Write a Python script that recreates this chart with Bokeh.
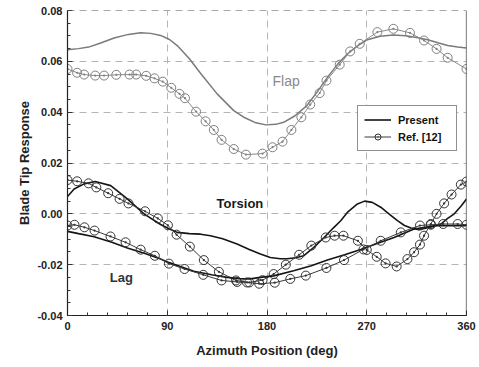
from bokeh.plotting import figure
from bokeh.models import (Range1d, FixedTicker, NumeralTickFormatter, Span, Label,
                          Legend, LegendItem)
from bokeh.embed import file_html
from bokeh.resources import INLINE

# ---------------- data ----------------
flap_present_x = [0, 10, 19, 30, 42, 55, 66, 75, 84, 92, 99, 110, 120, 135, 150, 160, 170, 179,
                  188, 195, 205, 216, 225, 234.5, 244, 252.5, 262, 270.6, 282, 294, 305, 315,
                  325, 335, 343, 352, 360]
flap_present_y = [0.0646, 0.0650, 0.0656, 0.0672, 0.0692, 0.0706, 0.0712, 0.0710, 0.0702, 0.0686,
                  0.0662, 0.0610, 0.0553, 0.0472, 0.0406, 0.0378, 0.0358, 0.0350, 0.0352, 0.0360,
                  0.0385, 0.0426, 0.0478, 0.0537, 0.0590, 0.0629, 0.0662, 0.0685, 0.0699, 0.0704,
                  0.0701, 0.0694, 0.0685, 0.0672, 0.0662, 0.0656, 0.0652]

flap_ref_x = [0, 8.7, 15, 25, 33, 44, 56, 62, 71, 78.5, 86, 93.6, 101, 106, 116, 124.6, 132, 139,
              150, 161, 176, 185, 194, 202, 211, 219, 227.5, 233.6, 245.6, 255, 263.7, 279.6, 294,
              309, 321.7, 333, 343, 360]
flap_ref_y = [0.0570, 0.0555, 0.0548, 0.0544, 0.0544, 0.0547, 0.0548, 0.0548, 0.0543, 0.0533,
              0.0520, 0.0496, 0.0472, 0.0455, 0.0402, 0.0364, 0.0330, 0.0291, 0.0255, 0.0233,
              0.0237, 0.0262, 0.0284, 0.0330, 0.0380, 0.0430, 0.0475, 0.0524, 0.0587, 0.0639,
              0.0669, 0.0715, 0.0728, 0.0712, 0.0682, 0.0649, 0.0614, 0.0570]

torsion_present_x = [0, 6, 15, 25, 39, 54, 69, 84, 92, 99, 110, 120, 129, 140, 153, 164, 174, 183,
                     192, 198, 206, 213, 222, 231.5, 240, 246.5, 253, 261.6, 268, 275, 282.6, 290,
                     297.7, 304, 310, 316, 322, 328, 337, 343, 349, 355, 360]
torsion_present_y = [0.0068, 0.0098, 0.0118, 0.0127, 0.0111, 0.0059, 0.0000, -0.0042, -0.0060,
                     -0.0073, -0.0078, -0.0080, -0.0086, -0.0098, -0.0119, -0.0140, -0.0158,
                     -0.0172, -0.0177, -0.0177, -0.0173, -0.0165, -0.0133, -0.0093, -0.0055,
                     -0.0027, 0.0008, 0.0039, 0.0050, 0.0045, 0.0026, 0.0000, -0.0027, -0.0046,
                     -0.0056, -0.0062, -0.0058, -0.0052, -0.0040, -0.0018, 0.0000, 0.0030, 0.0058]

torsion_ref_x = [0, 8.7, 19, 26, 36.7, 47, 55, 70, 81.5, 90.6, 98.4, 110.4, 123, 136.6, 152, 164,
                 176, 186, 197, 209, 220, 233, 241, 249, 262, 270, 279, 287, 297, 306.7, 312.7,
                 318, 321.7, 327.8, 333, 339.8, 346.5, 354.9, 360]
torsion_ref_y = [0.0133, 0.0128, 0.0120, 0.0104, 0.0081, 0.0059, 0.0041, 0.0010, -0.0018, -0.0045,
                 -0.0082, -0.0129, -0.0182, -0.0228, -0.0262, -0.0270, -0.0261, -0.0237, -0.0200,
                 -0.0161, -0.0125, -0.0093, -0.0086, -0.0086, -0.0106, -0.0142, -0.0169, -0.0195,
                 -0.0207, -0.0178, -0.0151, -0.0121, -0.0086, -0.0040, 0.0000, 0.0041, 0.0076,
                 0.0115, 0.0127]

lag_present_x = [0, 10, 24, 40, 54, 70, 84, 91, 114, 130, 144, 155, 165, 174, 186, 204, 220,
                 234.5, 250, 264.6, 280, 294.6, 312.7, 330.7, 345, 360]
lag_present_y = [-0.0069, -0.0078, -0.0090, -0.0112, -0.0134, -0.0156, -0.0178, -0.0191, -0.0226,
                 -0.0240, -0.0250, -0.0255, -0.0256, -0.0250, -0.0244, -0.0224, -0.0204, -0.0182,
                 -0.0161, -0.0140, -0.0116, -0.0093, -0.0060, -0.0047, -0.0046, -0.0047]

lag_ref_x = [0, 6.3, 15.3, 24.4, 38.8, 52.4, 66, 78.8, 91.5, 105.6, 122.5, 139, 153, 162, 173, 187,
             201, 215, 233.6, 249.5, 267, 282.6, 300.7, 318, 327.8, 339, 352, 360]
lag_ref_y = [-0.0046, -0.0043, -0.0053, -0.0066, -0.0089, -0.0112, -0.0141, -0.0165, -0.0196,
             -0.0217, -0.0240, -0.0262, -0.0268, -0.0270, -0.0275, -0.0271, -0.0256, -0.0243,
             -0.0213, -0.0182, -0.0140, -0.0106, -0.0073, -0.0046, -0.0043, -0.0040, -0.0040,
             -0.0043]

x_ticks = [0, 90, 180, 270, 360]
y_ticks = [-0.04, -0.02, 0.0, 0.02, 0.04, 0.06, 0.08]
x_minor = [i * 18 for i in range(21)]
y_minor = [round(-0.04 + i * 0.005, 3) for i in range(25)]

FONT = "Liberation Sans"

p = figure(width=479, height=367, output_backend="svg", toolbar_location=None,
           x_range=Range1d(0, 360), y_range=Range1d(-0.04, 0.08),
           min_border_left=67, min_border_right=13, min_border_top=10, min_border_bottom=52)
p.outline_line_color = None
p.background_fill_color = "white"
p.border_fill_color = "white"

for ax in (p.xaxis[0], p.yaxis[0]):
    ax.axis_line_color = "#222222"
    ax.axis_line_width = 1.2
    ax.major_tick_out = 0
    ax.major_tick_in = 5
    ax.minor_tick_out = 0
    ax.minor_tick_in = 3
    ax.major_tick_line_color = "#333333"
    ax.minor_tick_line_color = "#333333"
    ax.major_label_text_font = FONT
    ax.major_label_text_font_style = "bold"
    ax.major_label_text_font_size = "11px"
    ax.major_label_text_color = "#222222"
    ax.axis_label_text_font = FONT
    ax.axis_label_text_font_style = "bold"
    ax.axis_label_text_font_size = "13px"
    ax.axis_label_text_color = "#222222"

p.xaxis.ticker = FixedTicker(ticks=x_ticks, minor_ticks=x_minor)
p.yaxis.ticker = FixedTicker(ticks=y_ticks, minor_ticks=y_minor)
p.yaxis.formatter = NumeralTickFormatter(format="0.00")
p.xaxis.axis_label = "Azimuth Position (deg)"
p.yaxis.axis_label = "Blade Tip Response"
p.xaxis.major_label_standoff = 6
p.yaxis.major_label_standoff = 5
p.xaxis.axis_label_standoff = 10
p.yaxis.axis_label_standoff = 2

for g in (p.xgrid[0], p.ygrid[0]):
    g.grid_line_color = "#b5b5b5"
    g.grid_line_dash = "7 5"
    g.grid_line_width = 1

p.add_layout(Span(location=0.08, dimension="width", line_color="#555555",
                  line_dash="7 5", line_width=1.2))
p.add_layout(Span(location=360, dimension="height", line_color="#222222", line_width=1.2))

# Flap
p.line(flap_present_x, flap_present_y, line_color="#7a7a7a", line_width=1.5)
p.line(flap_ref_x, flap_ref_y, line_color="#8a8a8a", line_width=1)
p.scatter(flap_ref_x, flap_ref_y, marker="circle_dot", size=9, line_color="#808080",
          fill_color=None, line_width=1)

# Torsion
tp = p.line(torsion_present_x, torsion_present_y, line_color="#151515", line_width=1.6)
tr_line = p.line(torsion_ref_x, torsion_ref_y, line_color="#3a3a3a", line_width=1)
tr_mark = p.scatter(torsion_ref_x, torsion_ref_y, marker="circle_dot", size=9,
                    line_color="#333333", fill_color=None, line_width=1)

# Lag
p.line(lag_present_x, lag_present_y, line_color="#151515", line_width=1.6)
p.line(lag_ref_x, lag_ref_y, line_color="#3a3a3a", line_width=1)
p.scatter(lag_ref_x, lag_ref_y, marker="circle_dot", size=9, line_color="#333333",
          fill_color=None, line_width=1)

p.add_layout(Label(x=185, y=0.0524, text="Flap", text_font=FONT, text_font_size="14px",
                   text_color="#8a8a8a", text_baseline="middle"))
p.add_layout(Label(x=134.5, y=0.0041, text="Torsion", text_font=FONT, text_font_size="13px",
                   text_font_style="bold", text_color="#1a1a1a", text_baseline="middle"))
p.add_layout(Label(x=38.2, y=-0.0250, text="Lag", text_font=FONT, text_font_size="13px",
                   text_font_style="bold", text_color="#333333", text_baseline="middle"))

legend = Legend(items=[LegendItem(label="Present", renderers=[tp]),
                       LegendItem(label="Ref. [12]", renderers=[tr_line, tr_mark])],
                location=(290, 164))
legend.border_line_color = "#222222"
legend.border_line_width = 1
legend.background_fill_color = "white"
legend.background_fill_alpha = 1
legend.label_text_font = FONT
legend.label_text_font_style = "bold"
legend.label_text_font_size = "11px"
legend.label_text_color = "#111111"
legend.glyph_width = 27
legend.glyph_height = 15
legend.label_height = 15
legend.label_width = 52
legend.label_standoff = 7
legend.spacing = 2
legend.padding = 6
legend.margin = 0
p.add_layout(legend, "center")

open("out.html", "w").write(file_html(p, INLINE))
